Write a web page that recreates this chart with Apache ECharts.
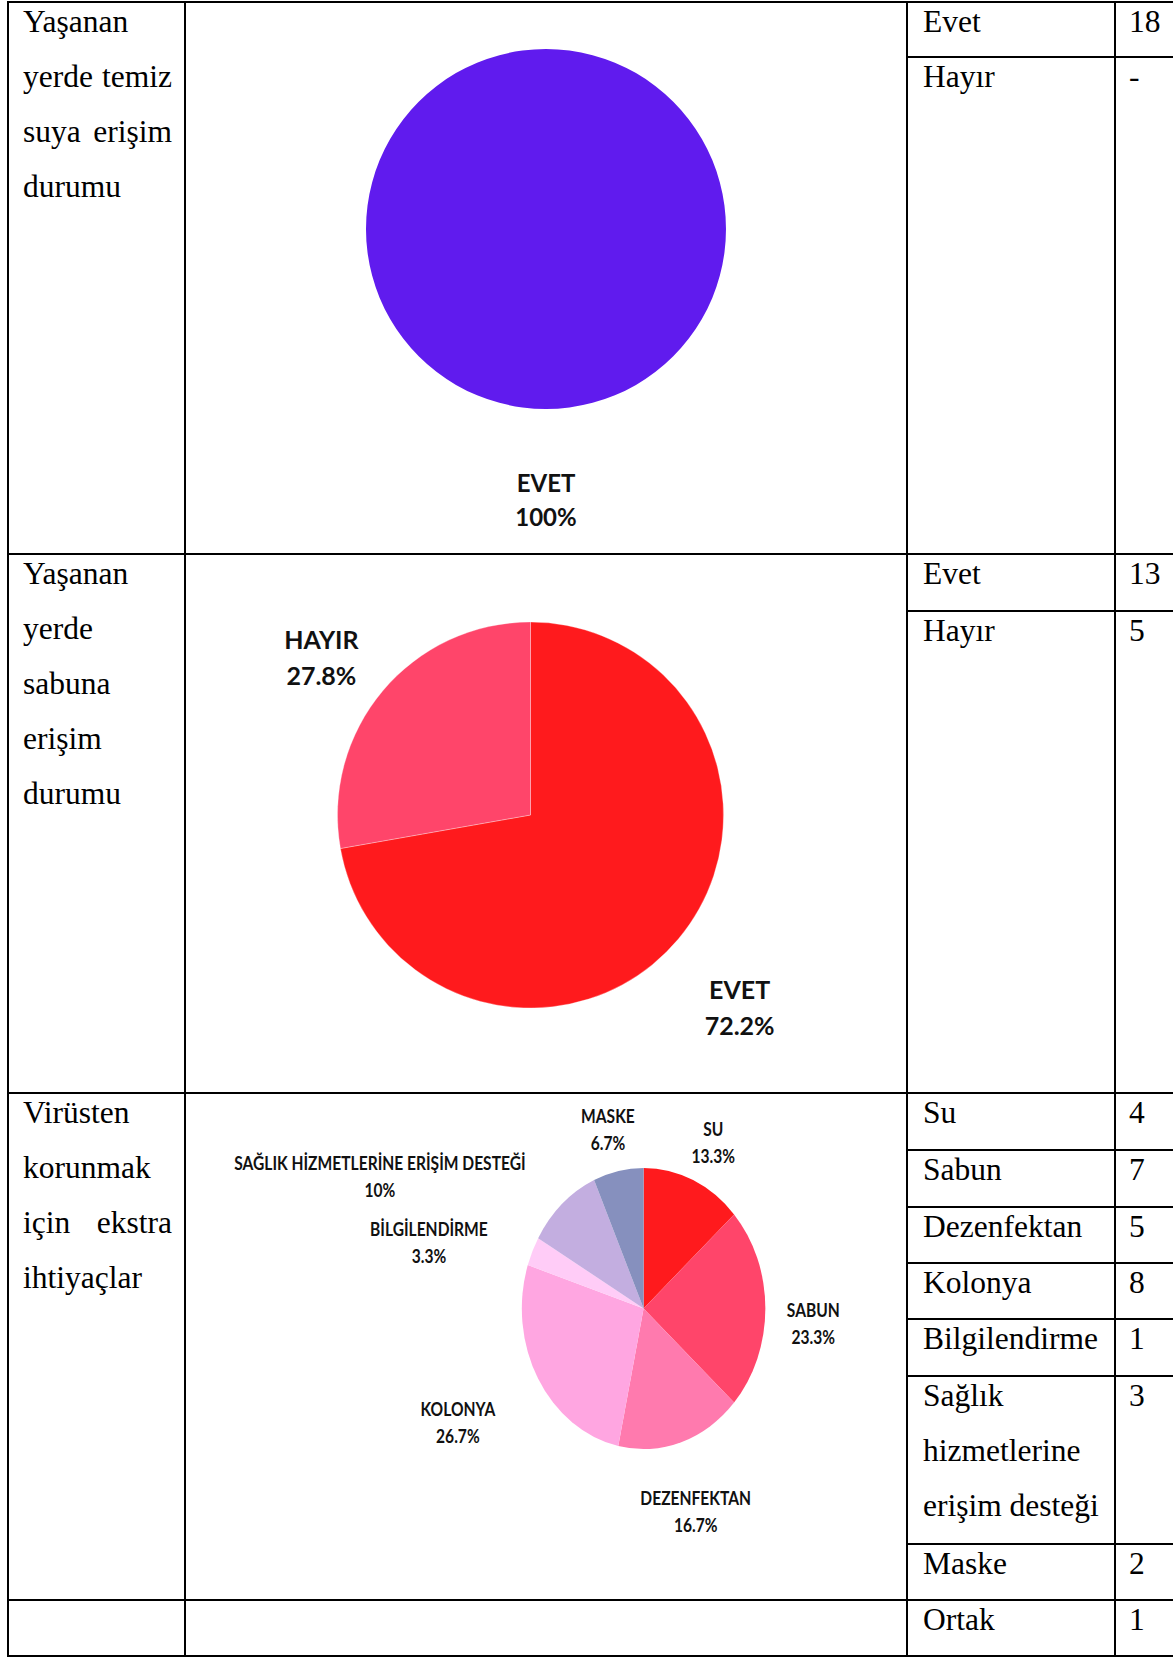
<!DOCTYPE html>
<html>
<head>
<meta charset="utf-8">
<script src="https://cdn.jsdelivr.net/npm/echarts@6/dist/echarts.min.js"></script>
<style>
body{margin:0;background:#fff;overflow:hidden}
#page{position:relative;width:1173px;height:1657px}
.ln{position:absolute;background:#000}
.cell{position:absolute;font-family:'Liberation Serif','Times New Roman',serif;font-size:31.5px;line-height:55px;color:#000;text-align:justify}
#main{position:absolute;left:0;top:0;width:1173px;height:1657px}
#needs{position:absolute;left:186px;top:1094px;width:831px;height:505px;transform:scaleX(0.866);transform-origin:0 0}
</style>
</head>
<body>
<div id="page"><div id="main"></div><div id="needs"></div></div>
<script>
// veriler
var rowTitles = ['Yaşanan yerde temiz suya erişim durumu', 'Yaşanan yerde sabuna erişim durumu', 'Virüsten korunmak için ekstra ihtiyaçlar', ''];

var waterNames = ['Evet', 'Hayır'];
var waterLabels = ['EVET', 'HAYIR'];
var waterCounts = [18, 0];

var soapNames = ['Evet', 'Hayır'];
var soapLabels = ['EVET', 'HAYIR'];
var soapCounts = [13, 5];

var needNames = ['Su', 'Sabun', 'Dezenfektan', 'Kolonya', 'Bilgilendirme', 'Sağlık hizmetlerine erişim desteği', 'Maske'];
var needLabels = ['SU', 'SABUN', 'DEZENFEKTAN', 'KOLONYA', 'BİLGİLENDİRME', 'SAĞLIK HİZMETLERİNE ERİŞİM DESTEĞİ', 'MASKE'];
var needCounts = [4, 7, 5, 8, 1, 3, 2];

var otherNames = ['Ortak'];
var otherCounts = [1];

// renkler
var waterColors = ['#601BEE', '#FF456A'];
var soapColors = ['#FF1A1D', '#FF456A'];
var needColors = ['#FF1A1D', '#FF456A', '#FF7AAE', '#FFA6E1', '#FFCCF7', '#C3AEE0', '#8690BE'];

// tablo cizgileri
var page = document.getElementById('page');
function addLine(x, y, w, h) {
	var d = document.createElement('div');
	d.className = 'ln';
	d.style.left = x + 'px';
	d.style.top = y + 'px';
	d.style.width = w + 'px';
	d.style.height = h + 'px';
	page.insertBefore(d, page.firstChild);
}
function addText(x, y, w, txt) {
	var d = document.createElement('div');
	d.className = 'cell';
	d.style.left = x + 'px';
	d.style.top = y + 'px';
	d.style.width = w + 'px';
	d.textContent = txt;
	page.insertBefore(d, page.firstChild);
}

var rowTops = [1, 553, 1092, 1599];
[8, 185, 907, 1115].forEach(function (x) { addLine(x - 1, 1, 2, 1656); });
rowTops.concat([1655]).forEach(function (y) { addLine(7, y, 1166, 2); });
[56, 610, 1149, 1206, 1262, 1318, 1375, 1543].forEach(function (y) { addLine(907, y, 266, 2); });

// sol sutun
for (var i = 0; i < rowTitles.length; i++) {
	addText(23, rowTops[i] - 7, 149, rowTitles[i]);
}

// sag sutunlar
var groups = [
	{names: waterNames, counts: waterCounts, tops: [1, 56]},
	{names: soapNames, counts: soapCounts, tops: [553, 610]},
	{names: needNames, counts: needCounts, tops: [1092, 1149, 1206, 1262, 1318, 1375, 1543]},
	{names: otherNames, counts: otherCounts, tops: [1599]}
];
groups.forEach(function (g) {
	for (var j = 0; j < g.names.length; j++) {
		addText(923, g.tops[j] - 7, 188, g.names[j]);
		addText(1129, g.tops[j] - 7, 44, g.counts[j] > 0 ? String(g.counts[j]) : '-');
	}
});

function pieData(labels, counts, colors) {
	var out = [];
	for (var k = 0; k < labels.length; k++) {
		if (counts[k] > 0) {
			out.push({name: labels[k], value: counts[k], itemStyle: {color: colors[k]}});
		}
	}
	return out;
}
function ringData(labels, counts) {
	var out = [];
	for (var k = 0; k < labels.length; k++) {
		if (counts[k] > 0) out.push({name: labels[k], value: counts[k]});
	}
	return out;
}
// etiketler icin gorunmez halka
function labelRing(center, radius, labels, counts, fontSize, lineHeight, layout) {
	return {
		type: 'pie',
		center: center,
		radius: radius,
		silent: true,
		percentPrecision: 1,
		avoidLabelOverlap: false,
		itemStyle: {color: 'rgba(0,0,0,0)'},
		label: {
			show: true,
			position: 'inside',
			formatter: '{b}\n{d}%',
			color: '#111',
			fontFamily: 'Lato',
			fontWeight: 'bold',
			fontSize: fontSize,
			lineHeight: lineHeight
		},
		labelLayout: layout,
		data: ringData(labels, counts)
	};
}

var mainChart = echarts.init(document.getElementById('main'), null, {renderer: 'svg'});
mainChart.setOption({
	animation: false,
	series: [
		{
			type: 'pie',
			center: [546, 229],
			radius: 180,
			silent: true,
			label: {show: false},
			data: pieData(waterLabels, waterCounts, waterColors)
		},
		labelRing([546, 229], [251, 291], waterLabels, waterCounts, 24, 34, {dy: -4}),
		{
			type: 'pie',
			center: [530.5, 815],
			radius: 193,
			silent: true,
			label: {show: false},
			itemStyle: {borderColor: '#fff', borderWidth: 0.3},
			data: pieData(soapLabels, soapCounts, soapColors)
		},
		labelRing([530.5, 815], [250, 290], soapLabels, soapCounts, 25, 36, {dy: 17})
	]
});

// ucuncu pasta yatayda basik
var needDx = [0, -2, -1, -43, -67, -172, 0];
var needsChart = echarts.init(document.getElementById('needs'), null, {renderer: 'svg'});
needsChart.setOption({
	animation: false,
	series: [
		{
			type: 'pie',
			center: [528.4, 214.5],
			radius: 140.6,
			silent: true,
			label: {show: false},
			data: pieData(needLabels, needCounts, needColors)
		},
		labelRing([528.4, 214.5], [175, 215], needLabels, needCounts, 18, 27, function (p) {
			return {dx: needDx[p.dataIndex], dy: 15};
		})
	]
});
</script>
</body>
</html>
